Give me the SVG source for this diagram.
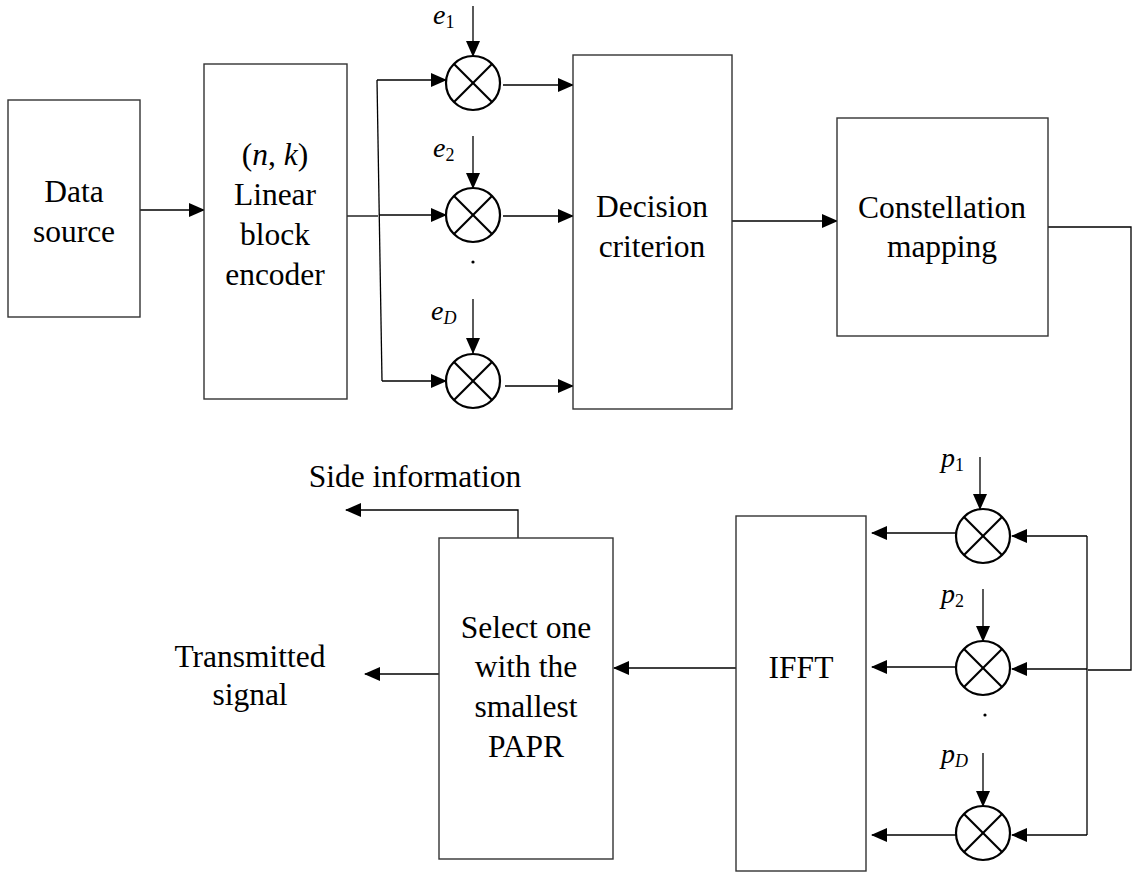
<svg xmlns="http://www.w3.org/2000/svg" width="1132" height="875" viewBox="0 0 1132 875">
<defs>
<marker id="ah" markerWidth="16" markerHeight="14" refX="15" refY="7" orient="auto" markerUnits="userSpaceOnUse">
<path d="M0,0 L16,7 L0,14 z" fill="#000"/>
</marker>
<clipPath id="clipT"><rect x="150" y="630" width="220" height="82"/></clipPath>
</defs>
<style>
.box{fill:#fff;stroke:#333;stroke-width:1.4}
.t{font-family:"Liberation Serif","Times New Roman",serif;font-size:31.5px;fill:#000;text-anchor:middle}
.m{font-family:"Liberation Serif","Times New Roman",serif;font-size:28px;font-style:italic;fill:#000}
.sub{font-size:18px;font-style:normal}
.subi{font-size:18px;font-style:italic}
.ln{fill:none;stroke:#000;stroke-width:1.3}
.ar{fill:none;stroke:#000;stroke-width:1.3;marker-end:url(#ah)}
.mul circle{fill:#fff;stroke:#000;stroke-width:2.2}
.mul line{stroke:#000;stroke-width:2.2}
</style>
<rect width="1132" height="875" fill="#fff"/>

<g id="connectors">
<line class="ar" x1="140" y1="210" x2="204" y2="210"/>
<polyline class="ln" points="347,216 378,216"/>
<line class="ln" x1="377" y1="80" x2="382" y2="381"/>
<line class="ar" x1="377" y1="80" x2="446" y2="80"/>
<line class="ar" x1="379" y1="215" x2="446" y2="215"/>
<line class="ar" x1="382" y1="381" x2="446" y2="381"/>
<line class="ar" x1="473" y1="6" x2="473" y2="56"/>
<line class="ar" x1="473" y1="136" x2="473" y2="188"/>
<line class="ar" x1="473" y1="299" x2="473" y2="353"/>
<line class="ar" x1="503" y1="85" x2="573" y2="85"/>
<line class="ar" x1="503" y1="216" x2="573" y2="216"/>
<line class="ar" x1="505" y1="386" x2="573" y2="386"/>
<line class="ar" x1="732" y1="221" x2="837" y2="221"/>
<polyline class="ln" points="1048,227 1131,227 1131,670 1088,670" stroke="#555"/>
<line class="ln" x1="1087" y1="536" x2="1087" y2="835"/>
<line class="ar" x1="1087" y1="536" x2="1012" y2="536"/>
<line class="ar" x1="1087" y1="669" x2="1012" y2="669"/>
<line class="ar" x1="1087" y1="835" x2="1012" y2="835"/>
<line class="ar" x1="980" y1="457" x2="980" y2="509"/>
<line class="ar" x1="983" y1="589" x2="983" y2="641"/>
<line class="ar" x1="983" y1="753" x2="983" y2="806"/>
<line class="ar" x1="956" y1="533" x2="872" y2="533"/>
<line class="ar" x1="956" y1="667" x2="872" y2="667"/>
<line class="ar" x1="956" y1="835" x2="872" y2="835"/>
<line class="ar" x1="736" y1="668" x2="614" y2="668"/>
<polyline class="ar" points="518,538 518,510 346,510"/>
<line class="ar" x1="439" y1="674" x2="365" y2="674"/>
</g>

<g id="data-source">
<rect class="box" x="8" y="100" width="132" height="217"/>
<text class="t" x="74" y="202">Data</text>
<text class="t" x="74" y="242">source</text>
</g>

<g id="encoder">
<rect class="box" x="204" y="64" width="143" height="335"/>
<text class="t" x="275" y="165">(<tspan font-style="italic">n</tspan>, <tspan font-style="italic">k</tspan>)</text>
<text class="t" x="275" y="205">Linear</text>
<text class="t" x="275" y="245">block</text>
<text class="t" x="275" y="285">encoder</text>
</g>

<g id="mult-e1" class="mul">
<circle cx="473" cy="83" r="27"/>
<line x1="454" y1="64" x2="492" y2="102"/><line x1="492" y1="64" x2="454" y2="102"/>
</g>
<g id="mult-e2" class="mul">
<circle cx="473" cy="215" r="27"/>
<line x1="454" y1="196" x2="492" y2="234"/><line x1="492" y1="196" x2="454" y2="234"/>
</g>
<g id="mult-eD" class="mul">
<circle cx="473" cy="381" r="27"/>
<line x1="454" y1="362" x2="492" y2="400"/><line x1="492" y1="362" x2="454" y2="400"/>
</g>
<g id="labels-e">
<text class="m" x="433" y="24">e<tspan class="sub" dy="4">1</tspan></text>
<text class="m" x="433" y="157">e<tspan class="sub" dy="4">2</tspan></text>
<text class="m" x="431" y="320">e<tspan class="subi" dy="4">D</tspan></text>
<circle cx="473" cy="262" r="1.6" fill="#000"/>
</g>

<g id="decision">
<rect class="box" x="573" y="55" width="159" height="354"/>
<text class="t" x="652" y="217">Decision</text>
<text class="t" x="652" y="257">criterion</text>
</g>

<g id="constellation">
<rect class="box" x="837" y="118" width="211" height="218"/>
<text class="t" x="942" y="218">Constellation</text>
<text class="t" x="942" y="257">mapping</text>
</g>

<g id="mult-p1" class="mul">
<circle cx="983" cy="536" r="27"/>
<line x1="964" y1="517" x2="1002" y2="555"/><line x1="1002" y1="517" x2="964" y2="555"/>
</g>
<g id="mult-p2" class="mul">
<circle cx="983" cy="668" r="27"/>
<line x1="964" y1="649" x2="1002" y2="687"/><line x1="1002" y1="649" x2="964" y2="687"/>
</g>
<g id="mult-pD" class="mul">
<circle cx="983" cy="833" r="27"/>
<line x1="964" y1="814" x2="1002" y2="852"/><line x1="1002" y1="814" x2="964" y2="852"/>
</g>
<g id="labels-p">
<text class="m" x="941" y="467">p<tspan class="sub" dy="4">1</tspan></text>
<text class="m" x="941" y="603">p<tspan class="sub" dy="4">2</tspan></text>
<text class="m" x="941" y="763">p<tspan class="subi" dy="4">D</tspan></text>
<circle cx="985" cy="715" r="1.6" fill="#000"/>
</g>

<g id="ifft">
<rect class="box" x="736" y="516" width="130" height="355"/>
<text class="t" x="801" y="678">IFFT</text>
</g>

<g id="select">
<rect class="box" x="439" y="538" width="174" height="321"/>
<text class="t" x="526" y="638">Select one</text>
<text class="t" x="526" y="677">with the</text>
<text class="t" x="526" y="717">smallest</text>
<text class="t" x="526" y="757">PAPR</text>
</g>

<g id="outputs">
<text class="t" x="415" y="487">Side information</text>
<g clip-path="url(#clipT)">
<text class="t" x="250" y="667">Transmitted</text>
<text class="t" x="250" y="705">signal</text>
</g>
</g>
</svg>
